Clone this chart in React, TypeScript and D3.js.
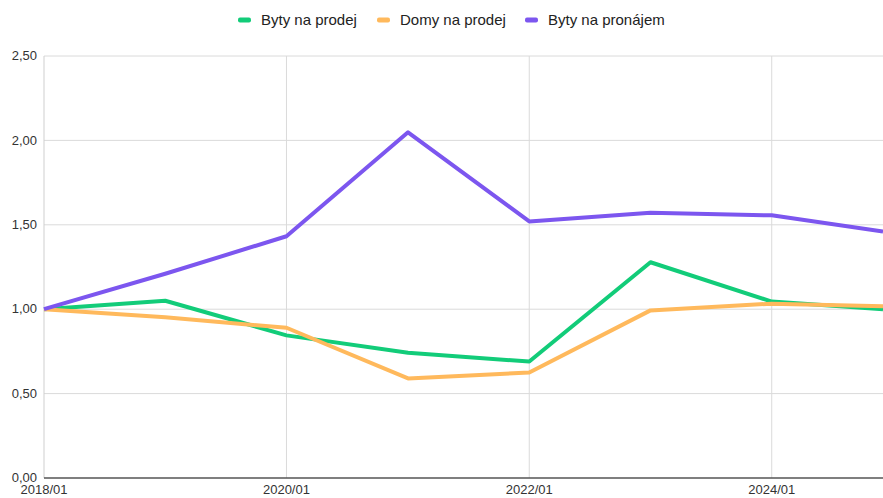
import { useEffect, useRef } from "react";
import * as d3 from "d3";

// yearly index values, last point = latest month
const dates = ["2018-01", "2019-01", "2020-01", "2021-01", "2022-01", "2023-01", "2024-01", "2024-12"];
const bytyProdej = [1.0, 1.05, 0.845, 0.742, 0.69, 1.278, 1.045, 1.0];
const domyProdej = [1.0, 0.952, 0.89, 0.59, 0.625, 0.993, 1.033, 1.017];
const bytyPronajem = [1.0, 1.21, 1.432, 2.048, 1.52, 1.572, 1.556, 1.46];
const seriesNames = ["Byty na prodej", "Domy na prodej", "Byty na pronájem"];
const seriesColors = ["#12cc79", "#ffb95c", "#7c56ef"];
const yTicks = [0, 0.5, 1, 1.5, 2, 2.5];
const xTicks = ["2018-01", "2020-01", "2022-01", "2024-01"];

const parse = d3.timeParse("%Y-%m");

const App = () => {
  const svgRef = useRef(null);

  useEffect(() => {
    const width = 883;
    const height = 498;
    const margin = { top: 56, right: 0, bottom: 20, left: 44 };
    const font = "'Liberation Sans', Arial, sans-serif";

    const svg = d3.select(svgRef.current);
    svg.selectAll("*").remove();
    svg.attr("width", width).attr("height", height);

    const x = d3
      .scaleTime()
      .domain([parse("2018-01"), parse("2024-12")])
      .range([margin.left, width - margin.right]);
    const y = d3
      .scaleLinear()
      .domain([0, 2.5])
      .range([height - margin.bottom, margin.top]);

    const fmt = (v) => d3.format(".2f")(v).replace(".", ",");

    // horizontal grid
    svg
      .append("g")
      .selectAll("line")
      .data(yTicks.slice(1))
      .join("line")
      .attr("x1", margin.left)
      .attr("x2", width)
      .attr("y1", (d) => y(d))
      .attr("y2", (d) => y(d))
      .attr("stroke", "#dadada")
      .attr("stroke-width", 1);

    // vertical grid
    svg
      .append("g")
      .selectAll("line")
      .data(xTicks.slice(1))
      .join("line")
      .attr("x1", (d) => x(parse(d)))
      .attr("x2", (d) => x(parse(d)))
      .attr("y1", margin.top)
      .attr("y2", height - margin.bottom)
      .attr("stroke", "#dadada")
      .attr("stroke-width", 1);

    // y axis line
    svg
      .append("line")
      .attr("x1", margin.left)
      .attr("x2", margin.left)
      .attr("y1", margin.top)
      .attr("y2", height - margin.bottom)
      .attr("stroke", "#cfcfcf")
      .attr("stroke-width", 1);

    // y labels
    svg
      .append("g")
      .selectAll("text")
      .data(yTicks)
      .join("text")
      .attr("x", 37)
      .attr("y", (d) => y(d))
      .attr("dy", "0.32em")
      .attr("text-anchor", "end")
      .attr("font-family", font)
      .attr("font-size", 13)
      .attr("fill", "#333")
      .text(fmt);

    // x labels
    svg
      .append("g")
      .selectAll("text")
      .data(xTicks)
      .join("text")
      .attr("x", (d) => x(parse(d)))
      .attr("y", 494)
      .attr("text-anchor", "middle")
      .attr("font-family", font)
      .attr("font-size", 13)
      .attr("fill", "#333")
      .text((d) => d.replace("-", "/"));

    const line = d3
      .line()
      .x((d) => x(parse(d[0])))
      .y((d) => y(d[1]));

    [bytyProdej, domyProdej, bytyPronajem].forEach((vals, i) => {
      svg
        .append("path")
        .datum(dates.map((d, j) => [d, vals[j]]))
        .attr("d", line)
        .attr("fill", "none")
        .attr("stroke", seriesColors[i])
        .attr("stroke-width", 4)
        .attr("stroke-linejoin", "round");
    });

    // x axis line on top
    svg
      .append("line")
      .attr("x1", margin.left)
      .attr("x2", width)
      .attr("y1", height - margin.bottom)
      .attr("y2", height - margin.bottom)
      .attr("stroke", "#555")
      .attr("stroke-width", 1.5);

    // legend
    const legend = svg.append("g").attr("transform", "translate(0,20)");
    const starts = [238, 377, 525];
    seriesNames.forEach((name, i) => {
      const g = legend.append("g").attr("transform", `translate(${starts[i]},0)`);
      g.append("rect")
        .attr("x", 0)
        .attr("y", -2.5)
        .attr("width", 13)
        .attr("height", 5)
        .attr("rx", 2)
        .attr("fill", seriesColors[i]);
      g.append("text")
        .attr("x", 23)
        .attr("y", 0)
        .attr("dy", "0.35em")
        .attr("font-family", font)
        .attr("font-size", 15)
        .attr("fill", "#222")
        .text(name);
    });
  }, []);

  return (
    <svg
      ref={svgRef}
      style={{ position: "absolute", left: 0, top: 0, display: "block", background: "#fff" }}
    ></svg>
  );
};

export default App;
